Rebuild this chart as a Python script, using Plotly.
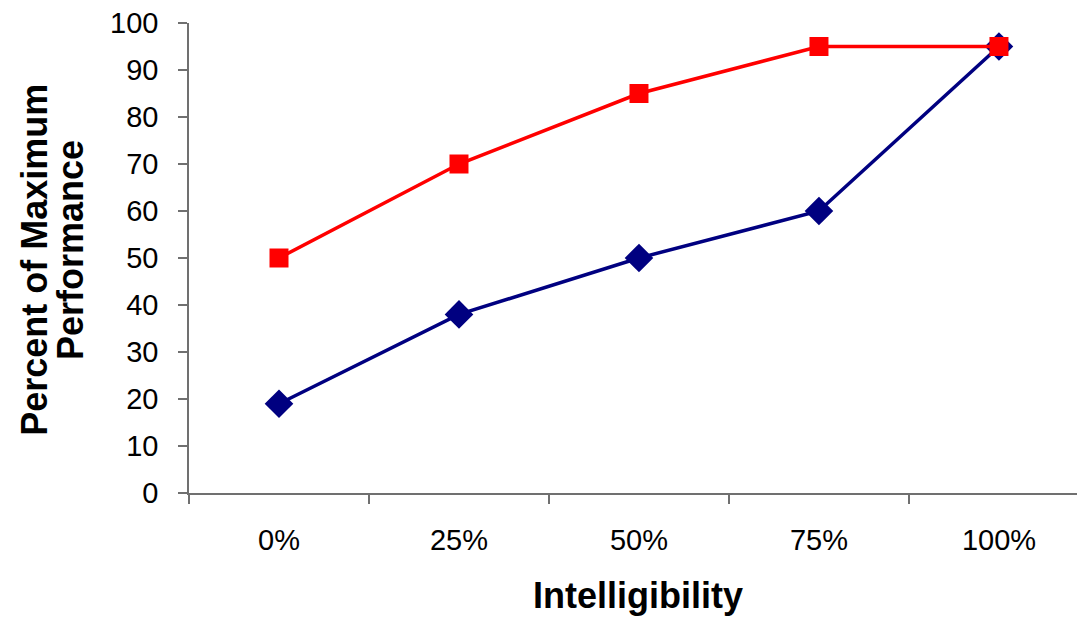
import plotly.graph_objects as go

categories = ["0%", "25%", "50%", "75%", "100%"]
blue_values = [19, 38, 50, 60, 95]
red_values = [50, 70, 85, 95, 95]
y_ticks = list(range(0, 101, 10))

FONT = "Liberation Sans, Arial, sans-serif"

fig = go.Figure()
fig.add_trace(go.Scatter(
    x=categories, y=blue_values, mode="lines+markers",
    line=dict(color="#000080", width=3.5),
    marker=dict(symbol="diamond", size=22, color="#000080"),
    showlegend=False,
))
fig.add_trace(go.Scatter(
    x=categories, y=red_values, mode="lines+markers",
    line=dict(color="#FF0000", width=3.5),
    marker=dict(symbol="square", size=19, color="#FF0000"),
    showlegend=False,
))

fig.update_layout(
    width=1077, height=611,
    margin=dict(l=181, r=0, t=15, b=126),
    paper_bgcolor="white", plot_bgcolor="white",
    font=dict(family=FONT, color="black"),
    xaxis=dict(
        type="category", range=[-0.5, 4.478],
        showgrid=False, zeroline=False,
        showline=True, linecolor="#707070", linewidth=1.5,
        ticks="outside", ticklen=9, tickcolor="#707070", tickwidth=1.5,
        tickson="boundaries",
        tickfont=dict(size=29, family=FONT, color="black"),
        ticklabelstandoff=20,
        ticklabeloverflow="allow",
    ),
    yaxis=dict(
        range=[0, 100], tickvals=y_ticks,
        showgrid=False, zeroline=False,
        showline=True, linecolor="#707070", linewidth=1.5,
        ticks="outside", ticklen=9, tickcolor="#707070", tickwidth=1.5,
        tickfont=dict(size=29, family=FONT, color="black"),
        ticklabelstandoff=14,
        ticklabeloverflow="allow",
    ),
    annotations=[
        dict(text="<b>Intelligibility</b>", xref="paper", yref="paper",
             x=0.501, y=-0.219, showarrow=False,
             font=dict(size=36, family=FONT, color="black"),
             xanchor="center", yanchor="middle"),
        dict(text="<b>Percent of Maximum</b>", xref="paper", yref="paper",
             x=-0.1719, y=0.496, showarrow=False, textangle=-90,
             font=dict(size=36, family=FONT, color="black"),
             xanchor="center", yanchor="middle"),
        dict(text="<b>Performance</b>", xref="paper", yref="paper",
             x=-0.1328, y=0.517, showarrow=False, textangle=-90,
             font=dict(size=36, family=FONT, color="black"),
             xanchor="center", yanchor="middle"),
    ],
)

fig.write_html("out.html")
